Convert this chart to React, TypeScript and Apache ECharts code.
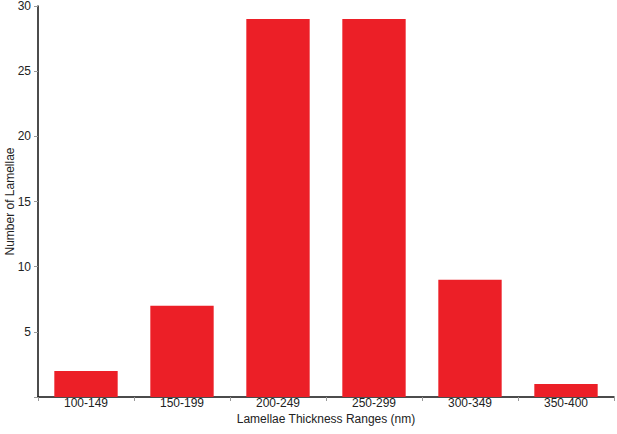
import React, { useEffect, useRef } from "react";
import * as echarts from "echarts";

const categories = ["100-149", "150-199", "200-249", "250-299", "300-349", "350-400"];
const counts = [2, 7, 29, 29, 9, 1];
const yTicks = [0, 5, 10, 15, 20, 25, 30];

export default function App() {
  const ref = useRef<HTMLDivElement>(null);
  useEffect(() => {
    if (!ref.current) return;
    const chart = echarts.init(ref.current, null, { renderer: "svg" });
    chart.setOption({
      animation: false,
      backgroundColor: "#ffffff",
      grid: { left: 38, right: 3, top: 6, bottom: 37, containLabel: false, outerBoundsMode: "none" },
      xAxis: {
        type: "category",
        data: categories,
        name: "Lamellae Thickness Ranges (nm)",
        nameLocation: "middle",
        nameGap: 16,
        nameMoveOverlap: false,
        nameTextStyle: { fontFamily: "Liberation Sans", fontSize: 12, color: "#222" },
        axisLine: { lineStyle: { color: "#111", width: 1.5 } },
        axisTick: { show: true, alignWithLabel: false, length: 4, lineStyle: { color: "#999" } },
        axisLabel: { fontFamily: "Liberation Sans", fontSize: 12, color: "#222", margin: 0, interval: 0 },
      },
      yAxis: {
        type: "value",
        min: yTicks[0],
        max: yTicks[yTicks.length - 1],
        interval: 5,
        name: "Number of Lamellae",
        nameLocation: "middle",
        nameGap: 22,
        nameMoveOverlap: false,
        nameTextStyle: { fontFamily: "Liberation Sans", fontSize: 12, color: "#222" },
        axisLine: { show: true, lineStyle: { color: "#111", width: 1.5 } },
        axisTick: { show: true, length: 4, lineStyle: { color: "#999" } },
        splitLine: { show: false },
        axisLabel: {
          fontFamily: "Liberation Sans",
          fontSize: 12,
          color: "#222",
          margin: 7,
          formatter: (v: number) => (v === 0 ? "" : String(v)),
        },
      },
      series: [
        {
          type: "bar",
          data: counts,
          barCategoryGap: "34%",
          itemStyle: { color: "#EC1F27" },
        },
      ],
    });
    return () => chart.dispose();
  }, []);
  return (
    <div
      ref={ref}
      style={{ position: "fixed", left: 0, top: 0, width: 617, height: 434, background: "#fff" }}
    />
  );
}
